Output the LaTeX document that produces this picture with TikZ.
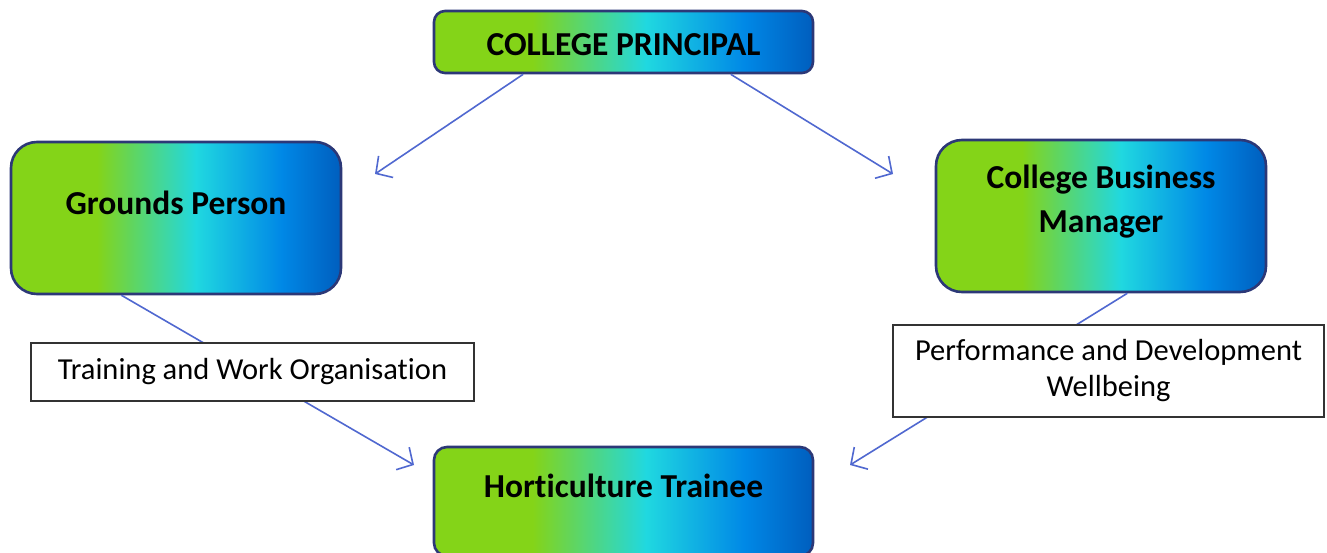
\documentclass[tikz,border=0pt]{standalone}
\usepackage{fontspec}
\setmainfont[Ligatures=NoCommon]{Carlito}
\usetikzlibrary{arrows.meta,calc}
\definecolor{cg}{HTML}{84D418}
\definecolor{cc}{HTML}{20D8E0}
\definecolor{cb}{HTML}{0088E6}
\definecolor{cd}{HTML}{005EBE}
\definecolor{edgec}{HTML}{2C3877}
\definecolor{arr}{HTML}{5068D0}
\pgfdeclarehorizontalshading{rolegrad}{100bp}{color(0bp)=(cg); color(25bp)=(cg); color(38bp)=(cg); color(53bp)=(cc); color(66bp)=(cb); color(75bp)=(cd); color(100bp)=(cd)}
\tikzset{
  rolebox/.style={draw=edgec, line width=2.6pt, shade, shading=rolegrad, inner sep=0pt},
  roletext/.style={font=\fontsize{33.5}{44}\selectfont\bfseries, align=center, inner sep=0pt},
  notebox/.style={draw=black!80, line width=1.2pt, fill=white, inner sep=0pt, align=center, font=\fontsize{30.5}{36}\selectfont},
  link/.style={draw=arr, line width=1.6pt},
  linkarrow/.style={link, -{Straight Barb[length=12pt,width=26pt,line width=1.6pt]}}
}
\begin{document}
\begin{tikzpicture}[x=1pt,y=-1pt]
\useasboundingbox[fill=white] (0,0) rectangle (1327,552);
% role boxes
\node[rolebox, rounded corners=11pt, minimum width=379pt, minimum height=62pt] (P) at (623.5,42) {};
\node[roletext] (Pt) at (623.5,45) {COLLEGE PRINCIPAL};
\node[rolebox, rounded corners=26pt, minimum width=330pt, minimum height=152pt] (G) at (176,218) {};
\node[roletext] (Gt) at (176,203) {Grounds Person};
\node[rolebox, rounded corners=26pt, minimum width=330pt, minimum height=152pt] (B) at (1101,216) {};
\node[roletext] (Bt) at (1101,202) {College Business\\Manager};
\node[rolebox, rounded corners=13pt, minimum width=379pt, minimum height=109pt] (H) at (623.5,501.5) {};
\node[roletext] (Ht) at (623.5,486) {Horticulture Trainee};
% arrow ends
\coordinate (eG) at (375,174);
\coordinate (eB) at (893,174);
\coordinate (eHl) at (414,465);
\coordinate (eHr) at (850,465);
% connectors
\draw[linkarrow] ($(P.south west)!0.237!(P.south east)$) -- (eG);
\draw[linkarrow] ($(P.south west)!0.781!(P.south east)$) -- (eB);
\draw[linkarrow] ($(G.south west)!0.336!(G.south east)$) -- (eHl);
\draw[linkarrow] ($(B.south west)!0.579!(B.south east)$) -- (eHr);
% labels on connectors
\node[notebox, minimum width=443pt, minimum height=58pt] (L1) at (252.5,372) {Training and Work Organisation};
\node[notebox, minimum width=431pt, minimum height=92pt] (L2) at (1108.5,371) {Performance and Development\\Wellbeing};
\end{tikzpicture}
\end{document}
